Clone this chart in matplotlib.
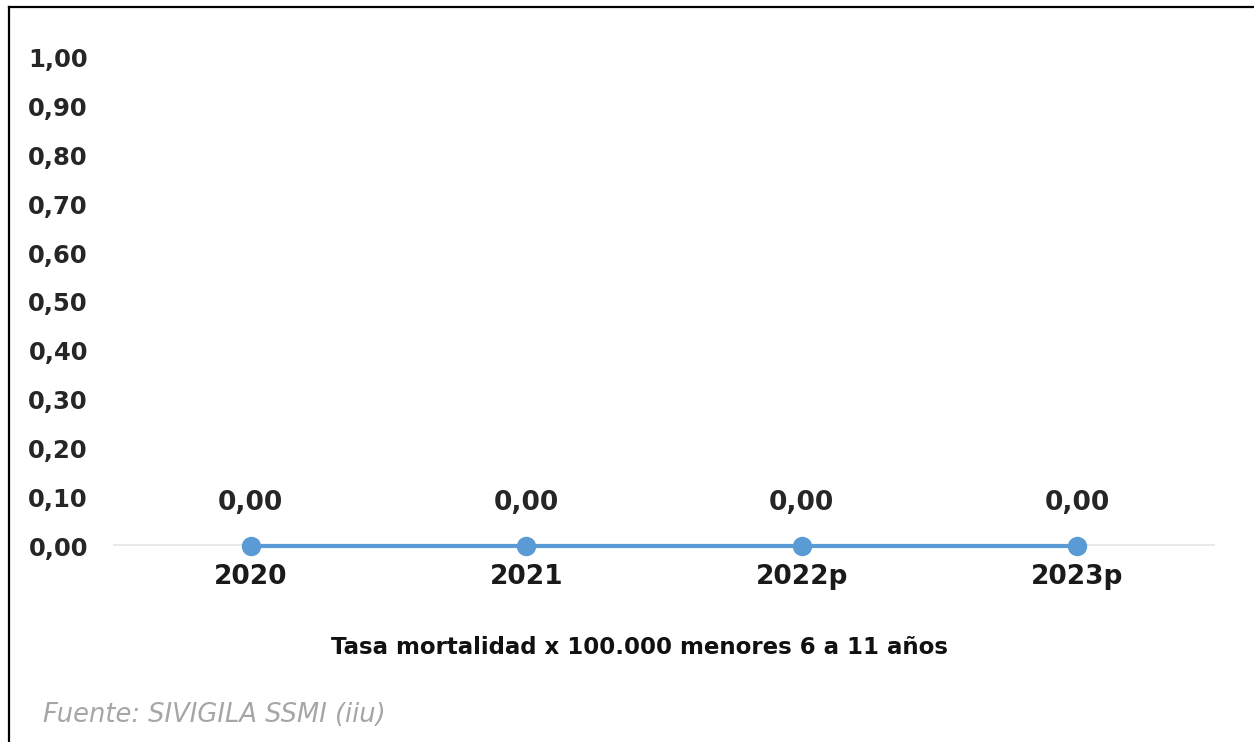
import matplotlib.pyplot as plt
from matplotlib.lines import Line2D

years = ["2020", "2021", "2022p", "2023p"]
rates = [0.00, 0.00, 0.00, 0.00]
y_ticks = [0.0, 0.1, 0.2, 0.3, 0.4, 0.5, 0.6, 0.7, 0.8, 0.9, 1.0]
axis_title = "Tasa mortalidad x 100.000 menores 6 a 11 años"
source = "Fuente: SIVIGILA SSMI (iiu)"

plt.rcParams['font.family'] = ['DejaVu Sans']

fig = plt.figure(figsize=(12.54, 7.42), dpi=100)
ax = fig.add_axes([113 / 1254, 1 - 546 / 742, (1215 - 113) / 1254, (546 - 58) / 742])

x = list(range(len(years)))
ax.axhline(0, color="#e9e9e9", lw=3, zorder=1)
ax.plot(x, rates, color="#5b9bd5", lw=3, marker="o", ms=14,
        markeredgewidth=0, clip_on=False, zorder=3)

for xi, v in zip(x, rates):
    ax.annotate(f"{v:.2f}".replace(".", ","), (xi, v), xytext=(0, 31),
                textcoords="offset points", ha="center", va="center",
                fontsize=19, fontweight="bold", color="#262626")

ax.set_xlim(-0.5, 3.5)
ax.set_ylim(0, 1.0)
ax.set_xticks(x)
ax.set_xticklabels(years, fontsize=19, fontweight="bold", color="#1a1a1a")
ax.set_yticks(y_ticks)
ax.set_yticklabels([f"{t:.2f}".replace(".", ",") for t in y_ticks],
                   fontsize=17.5, fontweight="bold", color="#262626")
ax.tick_params(axis="both", length=0)
ax.tick_params(axis="x", pad=13)
ax.tick_params(axis="y", pad=18)
for s in ax.spines.values():
    s.set_visible(False)

fig.text(639 / 1254, 1 - 647 / 742, axis_title, ha="center", va="center",
         fontsize=16.5, fontweight="bold", color="#111111")
fig.text(43 / 1254, 1 - 715 / 742, source, ha="left", va="center",
         fontsize=18.5, style="italic", color="#a6a6a6")

# frame around the chart
fig.add_artist(Line2D([9 / 1254, 9 / 1254], [0, 1 - 7 / 742],
                      transform=fig.transFigure, color="black", lw=1.6))
fig.add_artist(Line2D([9 / 1254, 1], [1 - 7 / 742, 1 - 7 / 742],
                      transform=fig.transFigure, color="black", lw=1.6))

fig.savefig("out.png", dpi=100)
